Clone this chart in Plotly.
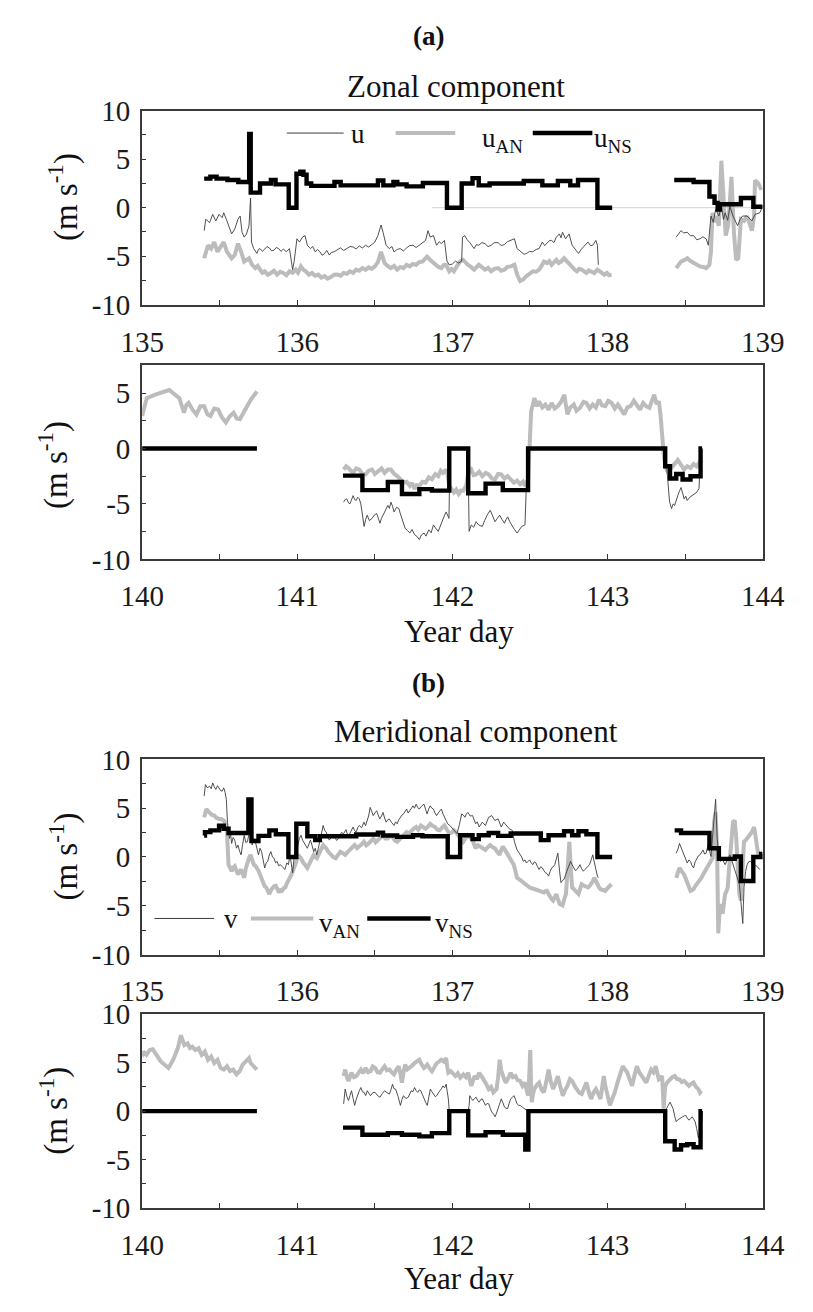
import plotly.graph_objects as go

# ---------------- data: (year day, m/s) ----------------
U_A1 = [(135.40,-2.36),(135.41,-1.19),(135.435,-1.53),(135.455,-0.69),(135.475,-1.36),(135.496,-0.69),(135.516,-1.02),(135.526,-0.52),(135.543,-1.19),(135.563,-2.20),(135.577,-2.70),(135.597,-2.20),(135.618,-1.19),(135.632,-0.86),(135.644,-2.53),(135.658,-3.03),(135.673,-2.70),(135.689,-1.86),(135.699,0.99),(135.705,-3.54),(135.719,-4.21),(135.74,-4.71),(135.75,-4.3),(135.76,-4.21),(135.775,-4.5),(135.79,-4.27),(135.805,-4.0),(135.82,-4.14),(135.835,-4.45),(135.85,-4.37),(135.865,-4.1),(135.88,-4.21),(135.895,-4.5),(135.91,-4.27),(135.93,-4.54),(135.95,-4.21),(135.97,-6.38),(135.98,-5.55),(135.998,-3.20),(136.014,-3.54),(136.034,-3.03),(136.05,-2.87),(136.065,-3.87),(136.085,-4.21),(136.10,-4.0),(136.116,-4.54),(136.13,-4.3),(136.146,-4.54),(136.16,-4.9),(136.177,-4.71),(136.19,-4.4),(136.207,-4.88),(136.22,-4.6),(136.238,-4.54),(136.258,-4.3),(136.278,-4.14),(136.30,-4.4),(136.319,-4.21),(136.34,-4.0),(136.36,-4.04),(136.38,-4.25),(136.40,-3.94),(136.42,-4.15),(136.44,-3.87),(136.46,-4.05),(136.48,-3.80),(136.50,-3.54),(136.52,-2.87),(136.54,-1.79),(136.553,-2.53),(136.573,-3.87),(136.593,-4.21),(136.61,-4.0),(136.624,-4.54),(136.645,-4.3),(136.664,-4.21),(136.685,-4.45),(136.705,-4.14),(136.725,-3.9),(136.746,-3.87),(136.766,-4.1),(136.786,-3.87),(136.805,-3.6),(136.827,-3.37),(136.843,-2.36),(136.857,-3.03),(136.878,-2.87),(136.898,-3.87),(136.915,-3.5),(136.929,-3.70),(136.949,-3.37),(136.965,-5.5),(136.98,-5.9),(137.0,-5.8),(137.02,-5.5),(137.04,-5.7),(137.06,-5.5),(137.065,-3.03),(137.08,-2.87),(137.095,-3.3),(137.11,-3.54),(137.125,-3.9),(137.14,-4.21),(137.155,-3.8),(137.17,-3.87),(137.19,-3.6),(137.21,-3.70),(137.23,-4.0),(137.25,-3.87),(137.27,-3.6),(137.295,-3.60),(137.315,-3.9),(137.335,-3.80),(137.355,-3.5),(137.376,-3.37),(137.40,-3.20),(137.417,-4.21),(137.432,-4.4),(137.447,-4.54),(137.462,-4.8),(137.478,-4.71),(137.498,-4.5),(137.518,-4.54),(137.54,-4.3),(137.559,-4.21),(137.58,-3.54),(137.595,-3.9),(137.61,-3.70),(137.625,-3.4),(137.64,-3.37),(137.655,-3.6),(137.67,-3.03),(137.69,-2.70),(137.70,-3.1),(137.71,-2.53),(137.73,-3.20),(137.752,-2.70),(137.772,-3.87),(137.793,-4.37),(137.813,-4.71),(137.83,-4.3),(137.844,-4.04),(137.86,-3.7),(137.874,-3.54),(137.89,-3.9),(137.905,-3.87),(137.925,-3.37),(137.935,-3.87),(137.941,-5.88)]
U_A2 = [(138.443,-3.03),(138.46,-2.7),(138.474,-2.36),(138.49,-2.6),(138.514,-2.53),(138.535,-2.9),(138.555,-2.87),(138.575,-3.3),(138.596,-3.20),(138.615,-3.0),(138.636,-3.20),(138.65,-3.87),(138.667,-0.86),(138.682,-1.5),(138.697,-0.18),(138.718,-0.86),(138.734,0.15),(138.748,-1.2),(138.758,-0.52),(138.775,-1.3),(138.789,0.15),(138.809,-0.86),(138.825,-1.5),(138.839,-1.86),(138.855,-1.2),(138.87,-0.86),(138.90,-0.86),(138.931,-1.36),(138.951,-0.69),(138.982,-0.52),(139.0,0.15)]
UAN_A1 = [(135.40,-5.21),(135.425,-3.87),(135.445,-4.21),(135.465,-3.54),(135.486,-4.54),(135.506,-4.04),(135.526,-3.54),(135.547,-4.54),(135.577,-5.21),(135.597,-4.88),(135.618,-3.70),(135.638,-4.54),(135.658,-5.55),(135.689,-5.21),(135.709,-5.88),(135.73,-6.22),(135.745,-6.0),(135.76,-6.38),(135.775,-6.7),(135.79,-6.55),(135.81,-6.9),(135.83,-6.72),(135.85,-6.5),(135.87,-6.89),(135.89,-6.6),(135.91,-6.72),(135.93,-6.95),(135.95,-6.55),(135.97,-6.7),(135.99,-6.38),(136.005,-6.7),(136.024,-6.05),(136.04,-6.4),(136.055,-6.55),(136.075,-6.9),(136.095,-6.72),(136.115,-7.0),(136.136,-6.89),(136.155,-7.2),(136.177,-7.05),(136.195,-7.3),(136.217,-7.15),(136.238,-6.9),(136.258,-6.89),(136.28,-7.0),(136.299,-6.72),(136.32,-6.8),(136.339,-6.55),(136.36,-6.7),(136.38,-6.38),(136.40,-6.5),(136.42,-6.22),(136.44,-6.4),(136.46,-6.15),(136.48,-6.3),(136.50,-6.05),(136.52,-5.6),(136.54,-4.54),(136.563,-5.71),(136.583,-6.0),(136.603,-6.22),(136.624,-6.0),(136.644,-6.38),(136.665,-6.1),(136.685,-6.22),(136.705,-5.9),(136.725,-6.05),(136.745,-5.8),(136.766,-5.88),(136.787,-5.6),(136.807,-5.55),(136.822,-5.3),(136.837,-5.04),(136.857,-5.38),(136.873,-5.6),(136.888,-5.88),(136.91,-6.1),(136.929,-6.22),(136.945,-5.9),(136.959,-5.88),(136.98,-6.55),(136.995,-6.3),(137.01,-6.55),(137.03,-6.0),(137.05,-5.55),(137.07,-5.38),(137.085,-5.7),(137.10,-5.88),(137.12,-6.1),(137.14,-6.38),(137.17,-5.88),(137.19,-6.1),(137.21,-6.38),(137.23,-6.2),(137.25,-6.55),(137.27,-6.3),(137.295,-6.22),(137.315,-6.5),(137.335,-6.38),(137.355,-6.1),(137.376,-6.05),(137.40,-5.88),(137.417,-6.89),(137.437,-7.56),(137.457,-7.39),(137.473,-7.1),(137.488,-6.89),(137.503,-6.7),(137.518,-6.55),(137.54,-6.6),(137.559,-6.38),(137.575,-6.0),(137.59,-5.55),(137.61,-5.71),(137.625,-5.5),(137.64,-5.88),(137.655,-5.6),(137.67,-5.38),(137.685,-5.7),(137.70,-5.55),(137.72,-5.21),(137.74,-5.55),(137.755,-5.9),(137.772,-6.22),(137.79,-6.4),(137.803,-6.55),(137.818,-6.3),(137.833,-6.38),(137.85,-6.6),(137.864,-6.72),(137.88,-6.45),(137.894,-6.55),(137.915,-6.72),(137.935,-6.38),(137.95,-6.6),(137.965,-6.72),(137.98,-6.9),(137.996,-6.72),(138.01,-6.95),(138.026,-6.89)]
UAN_A2 = [(138.443,-6.22),(138.46,-5.8),(138.474,-5.55),(138.494,-5.4),(138.514,-5.21),(138.535,-5.5),(138.555,-5.71),(138.575,-5.9),(138.596,-6.05),(138.616,-6.1),(138.636,-6.22),(138.657,-5.88),(138.667,-4.54),(138.677,-0.52),(138.687,-1.5),(138.697,-0.86),(138.718,-1.86),(138.734,4.84),(138.748,0.15),(138.762,-2.87),(138.778,-1.86),(138.799,3.17),(138.815,-2.53),(138.829,-5.38),(138.843,-5.21),(138.86,-1.19),(138.88,-1.36),(138.90,-0.86),(138.931,-2.36),(138.945,-0.86),(138.951,2.83),(138.972,2.5),(138.992,1.83)]
UNS_A1 = [(135.40,3.0),(135.44,3.2),(135.48,3.0),(135.55,2.85),(135.62,2.65),(135.69,7.6),(135.70,1.55),(135.76,2.5),(135.83,2.85),(135.86,2.4),(135.945,0.0),(135.995,3.5),(136.02,3.7),(136.04,3.4),(136.06,2.5),(136.09,2.25),(136.24,2.65),(136.28,2.3),(136.52,2.8),(136.555,2.3),(136.62,2.65),(136.645,2.4),(136.705,2.2),(136.81,2.55),(136.965,0.0),(137.06,2.5),(137.13,3.05),(137.17,2.3),(137.24,2.5),(137.46,2.75),(137.58,2.3),(137.68,2.75),(137.76,2.3),(137.81,2.85),(137.935,0.0),(138.03,0.0)]
UNS_A2 = [(138.43,2.85),(138.555,2.65),(138.657,1.15),(138.69,0.5),(138.71,-0.2),(138.725,0.35),(138.86,1.0),(138.94,0.1),(139.0,0.1)]
REF_A = [(136.87,0.0),(138.96,0.0)]

U_B1 = [(141.299,-4.84),(141.309,-4.6),(141.319,-4.54),(141.33,-4.9),(141.34,-4.98),(141.35,-4.5),(141.36,-4.25),(141.37,-4.6),(141.38,-4.69),(141.39,-4.4),(141.40,-4.54),(141.41,-5.0),(141.42,-6.01),(141.431,-7.03),(141.441,-6.4),(141.451,-6.01),(141.465,-6.5),(141.482,-6.3),(141.497,-6.0),(141.512,-5.86),(141.523,-6.3),(141.533,-6.74),(141.543,-6.3),(141.553,-6.01),(141.568,-5.6),(141.584,-5.13),(141.594,-5.4),(141.604,-4.84),(141.614,-5.2),(141.624,-5.72),(141.64,-5.3),(141.655,-5.42),(141.665,-5.9),(141.675,-6.3),(141.685,-6.8),(141.695,-7.18),(141.71,-7.4),(141.726,-7.62),(141.74,-7.3),(141.756,-7.77),(141.77,-7.9),(141.787,-8.21),(141.80,-7.8),(141.817,-7.62),(141.83,-7.9),(141.848,-7.33),(141.863,-7.6),(141.878,-6.89),(141.893,-7.2),(141.909,-7.47),(141.925,-6.9),(141.939,-6.3),(141.95,-6.0),(141.96,-5.72),(141.97,-6.1),(141.978,-6.3),(141.985,0.0),(142.10,0.0),(142.108,-7.47),(142.122,-6.89),(142.137,-7.1),(142.153,-6.6),(142.17,-6.9),(142.193,-7.03),(142.208,-6.5),(142.224,-6.01),(142.244,-5.57),(142.26,-6.2),(142.275,-6.6),(142.29,-6.3),(142.305,-6.01),(142.32,-6.4),(142.336,-6.74),(142.346,-6.4),(142.356,-6.16),(142.37,-6.6),(142.386,-7.03),(142.40,-7.3),(142.417,-7.62),(142.432,-7.3),(142.447,-7.03),(142.468,-6.89),(142.485,0.0),(143.372,0.0),(143.38,-1.61),(143.392,-3.96),(143.40,-4.8),(143.413,-5.42),(143.423,-5.0),(143.433,-5.13),(143.443,-4.6),(143.453,-4.25),(143.465,-3.8),(143.474,-3.52),(143.484,-4.0),(143.494,-4.54),(143.504,-4.3),(143.514,-4.69),(143.53,-4.4),(143.545,-4.25),(143.56,-4.1),(143.575,-3.96),(143.59,-3.6),(143.60,-0.3)]
UAN_B1 = [(140.0,2.93),(140.03,4.54),(140.08,4.83),(140.175,5.27),(140.24,4.54),(140.27,3.22),(140.285,3.9),(140.30,4.1),(140.325,3.5),(140.35,3.07),(140.375,3.8),(140.40,3.81),(140.42,3.1),(140.44,2.93),(140.465,3.6),(140.49,3.51),(140.515,2.8),(140.54,2.34),(140.565,2.9),(140.59,3.22),(140.61,2.7),(140.63,2.63),(140.665,3.51),(140.70,4.39),(140.74,5.13)]
UAN_B2 = [(141.299,-1.9),(141.315,-1.6),(141.33,-1.76),(141.345,-2.0),(141.36,-2.2),(141.38,-1.8),(141.40,-1.9),(141.42,-2.3),(141.441,-2.34),(141.46,-2.0),(141.482,-1.9),(141.50,-2.3),(141.523,-2.05),(141.543,-1.8),(141.563,-2.2),(141.584,-1.9),(141.604,-1.9),(141.625,-2.3),(141.645,-2.49),(141.665,-2.8),(141.685,-3.08),(141.705,-3.0),(141.726,-3.37),(141.74,-3.1),(141.756,-3.66),(141.77,-3.3),(141.787,-3.37),(141.807,-3.0),(141.827,-3.08),(141.848,-2.6),(141.868,-2.78),(141.89,-2.3),(141.909,-2.49),(141.925,-2.0),(141.939,-2.2),(141.96,-1.9),(141.97,-2.4),(141.98,-3.37),(141.995,-3.6),(142.01,-3.96),(142.025,-3.7),(142.041,-4.1),(142.055,-3.8),(142.071,-3.81),(142.09,-3.3),(142.102,-2.2),(142.122,-1.9),(142.137,-2.4),(142.153,-2.34),(142.173,-2.1),(142.193,-2.49),(142.214,-2.2),(142.234,-2.34),(142.255,-2.7),(142.275,-2.78),(142.295,-2.3),(142.315,-2.34),(142.336,-2.7),(142.356,-2.49),(142.376,-2.8),(142.397,-3.08),(142.417,-2.9),(142.437,-3.22),(142.455,-3.0),(142.468,-3.37),(142.488,-2.78),(142.50,1.0),(142.508,3.37),(142.518,3.9),(142.529,4.55),(142.545,3.8),(142.559,4.25),(142.58,3.7),(142.60,3.96),(142.62,3.5),(142.64,4.1),(142.66,3.6),(142.68,3.81),(142.70,4.2),(142.722,4.84),(142.732,3.9),(142.742,3.08),(142.76,3.7),(142.783,3.96),(142.80,3.4),(142.823,3.67),(142.845,4.2),(142.864,4.1),(142.885,3.6),(142.905,3.96),(142.925,3.7),(142.945,4.4),(142.965,3.9),(142.986,3.81),(143.005,4.3),(143.027,4.1),(143.047,3.6),(143.067,3.96),(143.088,3.5),(143.108,3.08),(143.128,3.7),(143.149,3.81),(143.17,4.3),(143.189,3.96),(143.21,3.5),(143.23,4.1),(143.25,3.8),(143.27,3.67),(143.285,4.2),(143.301,4.84),(143.316,4.0),(143.331,4.25),(143.342,3.0),(143.352,1.03),(143.362,-0.5),(143.372,-1.61),(143.382,-1.9),(143.392,-2.2),(143.408,-1.8),(143.423,-1.61),(143.438,-1.3),(143.453,-1.03),(143.474,-1.5),(143.494,-1.9),(143.514,-1.6),(143.535,-1.76),(143.555,-1.4),(143.575,-1.61),(143.59,-1.3),(143.606,-1.03)]
UNS_B1 = [(140.0,0.0),(140.74,0.0)]
UNS_B2 = [(141.295,-2.45),(141.42,-3.75),(141.584,-3.02),(141.675,-4.1),(141.787,-3.66),(141.868,-3.8),(141.98,0.0),(142.102,-4.04),(142.214,-3.17),(142.325,-3.75),(142.488,0.0),(143.372,-1.6),(143.403,-2.7),(143.443,-2.3),(143.484,-2.8),(143.535,-2.5),(143.60,0.0),(143.61,0.0)]

V_C1 = [(135.40,6.25),(135.408,7.42),(135.42,7.1),(135.435,7.25),(135.445,7.0),(135.455,7.59),(135.465,7.2),(135.475,6.92),(135.486,7.3),(135.496,7.09),(135.506,6.8),(135.516,6.75),(135.526,7.09),(135.535,6.6),(135.543,5.91),(135.55,3.57),(135.557,2.5),(135.563,1.89),(135.57,2.4),(135.577,1.39),(135.587,2.0),(135.597,1.73),(135.608,0.9),(135.618,1.22),(135.628,0.6),(135.638,0.22),(135.648,1.3),(135.658,2.23),(135.668,1.5),(135.679,1.56),(135.689,2.4),(135.699,3.07),(135.709,1.22),(135.72,1.9),(135.73,1.56),(135.74,0.8),(135.75,0.22),(135.76,0.9),(135.77,0.55),(135.78,-0.3),(135.79,-1.12),(135.80,-0.6),(135.81,-0.45),(135.82,0.2),(135.83,0.55),(135.84,0.0),(135.85,-0.12),(135.86,-0.6),(135.87,-0.45),(135.88,-0.9),(135.89,-0.79),(135.905,-1.0),(135.92,-1.29),(135.933,-0.6),(135.943,-0.79),(135.953,0.22),(135.962,-0.8),(135.97,-1.62),(135.977,-0.5),(135.984,0.55),(135.994,0.9),(136.004,1.22),(136.014,1.9),(136.024,2.23),(136.035,1.7),(136.045,1.39),(136.055,1.1),(136.065,0.89),(136.075,1.3),(136.085,1.73),(136.095,1.2),(136.106,0.55),(136.116,0.9),(136.126,0.22),(136.136,0.9),(136.146,1.56),(136.157,2.6),(136.167,3.23),(136.177,2.7),(136.187,2.56),(136.197,2.0),(136.207,1.73),(136.222,2.1),(136.238,2.23),(136.253,1.7),(136.268,1.89),(136.284,2.5),(136.299,2.4),(136.314,2.8),(136.329,2.06),(136.345,2.6),(136.36,3.07),(136.37,2.7),(136.38,2.56),(136.39,3.0),(136.40,3.23),(136.415,3.0),(136.43,3.57),(136.44,3.2),(136.45,3.74),(136.46,4.2),(136.47,5.08),(136.48,4.6),(136.49,4.24),(136.50,4.5),(136.512,4.74),(136.522,4.3),(136.532,3.9),(136.543,4.2),(136.553,4.57),(136.563,4.0),(136.573,3.57),(136.583,3.8),(136.593,3.9),(136.61,3.5),(136.624,3.23),(136.634,3.6),(136.644,3.4),(136.654,3.8),(136.664,4.07),(136.675,4.3),(136.685,4.41),(136.695,4.7),(136.705,4.91),(136.715,4.5),(136.725,4.74),(136.735,5.0),(136.746,5.24),(136.756,5.0),(136.766,5.41),(136.776,5.1),(136.786,4.91),(136.80,5.2),(136.817,5.41),(136.827,4.9),(136.837,4.41),(136.847,4.9),(136.857,5.24),(136.868,5.0),(136.878,4.91),(136.888,4.5),(136.898,4.24),(136.913,4.6),(136.929,4.91),(136.94,4.4),(136.949,4.07),(136.96,3.7),(136.97,3.4),(136.985,3.2),(137.0,2.9),(137.015,2.7),(137.03,2.4),(137.045,3.3),(137.06,4.41),(137.07,4.3),(137.081,4.07),(137.09,4.4),(137.10,4.57),(137.115,4.2),(137.13,4.24),(137.15,3.4),(137.16,3.6),(137.173,3.07),(137.193,3.57),(137.213,3.23),(137.234,4.07),(137.254,4.24),(137.274,3.74),(137.295,3.9),(137.315,3.07),(137.331,3.57),(137.346,3.23),(137.366,2.9),(137.386,2.73),(137.40,1.56),(137.417,0.72),(137.427,0.5),(137.437,0.22),(137.447,0.0),(137.457,-0.45),(137.468,-0.3),(137.478,-0.62),(137.488,-0.5),(137.498,-0.3),(137.508,-0.6),(137.518,-0.79),(137.529,-0.5),(137.539,-0.62),(137.549,-1.0),(137.559,-1.29),(137.569,-1.0),(137.58,-1.12),(137.59,-1.4),(137.60,-1.62),(137.61,-1.7),(137.62,-1.96),(137.63,-1.5),(137.64,-1.12),(137.65,-1.0),(137.66,-0.79),(137.67,-0.2),(137.68,0.39),(137.691,-1.46),(137.70,-2.63),(137.71,-2.4),(137.72,-2.29),(137.73,-1.8),(137.742,-1.29),(137.752,-0.9),(137.762,-0.45),(137.772,-0.8),(137.783,-1.12),(137.793,-1.4),(137.803,-1.29),(137.813,-1.0),(137.823,-0.79),(137.833,-1.2),(137.844,-1.46),(137.854,-1.3),(137.864,-1.12),(137.874,-0.9),(137.884,-0.79),(137.895,-0.3),(137.905,0.22),(137.913,-0.4),(137.921,-1.12),(137.935,-1.96),(137.941,-2.13)]
V_C2 = [(138.443,0.39),(138.454,0.8),(138.464,1.39),(138.48,0.7),(138.494,0.22),(138.504,-0.2),(138.514,-0.62),(138.525,-0.3),(138.535,-0.45),(138.545,-0.9),(138.555,-1.12),(138.565,-0.5),(138.575,-0.12),(138.585,0.1),(138.596,0.22),(138.606,0.5),(138.616,0.72),(138.626,0.3),(138.636,0.39),(138.645,1.0),(138.652,1.39),(138.66,0.5),(138.667,0.05),(138.677,2.0),(138.687,4.24),(138.697,5.91),(138.707,1.89),(138.718,0.2),(138.728,-0.45),(138.743,-0.3),(138.758,-0.79),(138.774,-0.2),(138.789,0.22),(138.80,-0.3),(138.809,-0.79),(138.819,-1.3),(138.829,-1.79),(138.84,-2.3),(138.85,-2.8),(138.857,-4.0),(138.864,-5.14),(138.872,-6.82),(138.876,-5.0),(138.88,-3.13),(138.89,-1.5),(138.90,-0.79),(138.91,-0.5),(138.921,-0.45),(138.936,-0.6),(138.951,-0.79),(138.966,-1.0),(138.982,-1.29)]
VAN_C1 = [(135.40,4.07),(135.414,4.91),(135.425,4.7),(135.435,4.57),(135.45,4.3),(135.465,4.24),(135.48,4.0),(135.496,3.9),(135.51,3.9),(135.526,3.74),(135.537,3.4),(135.547,2.56),(135.557,-0.79),(135.567,-1.1),(135.577,-1.46),(135.587,-1.1),(135.597,-0.95),(135.608,-1.4),(135.618,-1.79),(135.628,-1.5),(135.638,-1.29),(135.648,-1.7),(135.658,-2.13),(135.668,-1.2),(135.679,-0.45),(135.689,-0.1),(135.699,0.22),(135.71,-0.3),(135.72,-0.79),(135.73,-0.9),(135.74,-1.12),(135.75,-1.4),(135.76,-1.79),(135.77,-2.3),(135.78,-2.8),(135.79,-3.0),(135.80,-3.13),(135.81,-3.5),(135.82,-3.8),(135.83,-3.4),(135.84,-3.13),(135.85,-3.0),(135.862,-2.96),(135.872,-3.3),(135.882,-3.63),(135.892,-3.4),(135.902,-3.47),(135.913,-3.2),(135.923,-3.13),(135.933,-2.7),(135.943,-2.46),(135.953,-2.1),(135.963,-1.79),(135.973,-1.4),(135.984,-1.12),(135.994,-0.5),(136.004,0.22),(136.014,0.1),(136.024,-0.12),(136.035,-0.5),(136.045,-0.79),(136.055,-0.9),(136.065,-1.12),(136.075,-0.8),(136.085,-0.45),(136.095,-0.1),(136.106,0.22),(136.116,0.0),(136.126,-0.12),(136.136,0.2),(136.146,0.55),(136.157,0.9),(136.167,1.22),(136.177,1.0),(136.187,0.89),(136.202,0.5),(136.217,0.22),(136.232,0.0),(136.248,-0.12),(136.263,0.2),(136.278,0.55),(136.293,0.4),(136.309,0.22),(136.324,0.5),(136.339,0.72),(136.355,1.0),(136.37,1.22),(136.385,0.9),(136.40,1.06),(136.415,1.3),(136.43,1.56),(136.445,1.2),(136.46,1.39),(136.475,1.6),(136.49,1.89),(136.505,1.5),(136.52,1.73),(136.537,2.0),(136.553,2.23),(136.568,1.9),(136.583,1.89),(136.598,2.2),(136.614,2.06),(136.629,1.7),(136.644,1.56),(136.66,1.8),(136.675,2.06),(136.69,2.3),(136.705,2.56),(136.72,2.4),(136.735,2.73),(136.75,2.9),(136.766,3.07),(136.78,2.8),(136.797,3.23),(136.812,3.0),(136.827,2.9),(136.842,3.1),(136.857,3.4),(136.872,3.2),(136.888,3.07),(136.903,2.8),(136.918,2.73),(136.933,3.0),(136.949,3.23),(136.965,2.8),(136.98,2.4),(136.995,2.5),(137.01,2.73),(137.025,2.5),(137.04,2.23),(137.055,1.9),(137.07,1.56),(137.085,1.9),(137.10,2.23),(137.115,2.0),(137.13,1.73),(137.14,1.3),(137.15,0.89),(137.165,1.2),(137.183,1.06),(137.198,0.9),(137.213,0.72),(137.228,1.0),(137.244,1.22),(137.26,1.0),(137.274,0.89),(137.29,0.5),(137.305,0.22),(137.315,0.7),(137.325,1.06),(137.336,0.8),(137.346,0.55),(137.356,0.3),(137.366,0.05),(137.38,-0.4),(137.396,-0.79),(137.407,-1.5),(137.417,-2.13),(137.432,-2.3),(137.447,-2.46),(137.462,-2.6),(137.478,-2.8),(137.488,-3.0),(137.498,-3.13),(137.513,-3.2),(137.528,-3.3),(137.544,-3.4),(137.559,-3.47),(137.575,-3.5),(137.59,-3.63),(137.60,-3.5),(137.61,-3.47),(137.62,-3.8),(137.63,-4.14),(137.64,-4.3),(137.65,-4.47),(137.66,-4.1),(137.67,-3.8),(137.68,-4.3),(137.691,-4.81),(137.70,-4.9),(137.71,-4.97),(137.72,-4.4),(137.732,-3.8),(137.74,-2.0),(137.746,-0.79),(137.754,1.56),(137.762,-0.79),(137.772,-3.13),(137.783,-3.3),(137.793,-3.47),(137.803,-3.6),(137.813,-3.8),(137.823,-3.3),(137.833,-2.8),(137.844,-2.9),(137.854,-2.96),(137.864,-3.0),(137.874,-3.13),(137.884,-3.0),(137.894,-2.8),(137.905,-2.5),(137.915,-2.13),(137.925,-2.5),(137.935,-2.8),(137.945,-3.1),(137.955,-3.3),(137.97,-3.4),(137.986,-3.47),(138.0,-3.2),(138.016,-2.96),(138.026,-2.8)]
VAN_C2 = [(138.443,-2.13),(138.454,-1.6),(138.464,-1.12),(138.48,-1.5),(138.494,-1.79),(138.504,-2.2),(138.514,-2.63),(138.525,-3.0),(138.535,-3.47),(138.545,-3.4),(138.555,-3.3),(138.565,-3.0),(138.575,-2.8),(138.59,-2.4),(138.606,-2.13),(138.62,-1.7),(138.636,-1.29),(138.646,-1.0),(138.657,-0.79),(138.667,-0.4),(138.677,-0.12),(138.687,3.57),(138.697,4.57),(138.707,0.22),(138.714,-7.82),(138.721,-6.0),(138.728,-4.81),(138.735,-5.3),(138.742,-5.81),(138.75,-4.8),(138.758,-3.8),(138.767,-3.5),(138.775,-3.13),(138.782,-1.5),(138.789,-0.12),(138.799,1.56),(138.809,3.57),(138.82,3.74),(138.829,2.23),(138.839,-0.79),(138.85,-3.8),(138.86,-4.47),(138.87,-1.46),(138.88,1.56),(138.89,1.7),(138.90,1.89),(138.915,2.2),(138.931,2.56),(138.945,3.07),(138.957,1.56),(138.972,0.22)]
VNS_C1 = [(135.40,2.2),(135.405,2.55),(135.44,2.73),(135.496,3.2),(135.526,2.9),(135.557,2.45),(135.685,5.9),(135.705,1.63),(135.75,2.16),(135.82,2.73),(135.862,2.33),(135.943,0.0),(135.994,3.4),(136.065,2.13),(136.116,1.73),(136.146,2.13),(136.38,2.3),(136.52,2.5),(136.553,2.2),(136.644,2.06),(136.746,2.23),(136.807,2.13),(136.97,0.0),(137.05,2.23),(137.13,1.83),(137.17,2.23),(137.234,2.46),(137.295,2.16),(137.376,2.4),(137.57,1.73),(137.62,2.23),(137.72,2.63),(137.772,2.23),(137.813,2.63),(137.864,2.33),(137.935,0.0),(138.03,0.0)]
VNS_C2 = [(138.433,2.73),(138.474,2.46),(138.657,0.9),(138.718,-0.2),(138.82,0.05),(138.86,-2.46),(138.94,0.0),(138.99,0.3),(139.0,0.3)]

V_D1 = [(141.299,0.75),(141.309,2.27),(141.32,1.5),(141.33,1.09),(141.34,1.6),(141.35,2.1),(141.36,1.3),(141.37,0.59),(141.38,1.2),(141.39,1.76),(141.40,2.1),(141.41,2.43),(141.42,2.0),(141.431,1.93),(141.441,1.6),(141.451,2.1),(141.462,1.8),(141.472,1.59),(141.487,1.9),(141.502,1.93),(141.518,1.6),(141.533,1.43),(141.548,1.8),(141.563,2.1),(141.578,1.9),(141.594,1.76),(141.604,2.2),(141.614,2.77),(141.624,2.3),(141.634,2.27),(141.65,1.5),(141.665,0.59),(141.675,1.2),(141.685,1.59),(141.70,1.3),(141.716,1.43),(141.726,1.8),(141.736,2.1),(141.746,2.0),(141.756,2.43),(141.767,2.1),(141.777,1.93),(141.787,2.2),(141.797,2.1),(141.807,1.7),(141.817,1.26),(141.828,0.9),(141.838,0.59),(141.848,1.5),(141.858,2.27),(141.868,2.0),(141.878,1.76),(141.889,1.5),(141.899,1.59),(141.909,1.9),(141.919,2.1),(141.929,2.3),(141.939,2.6),(141.95,2.4),(141.96,2.77),(141.967,2.0),(141.974,1.26),(141.98,0.0),(142.102,0.0),(142.108,0.59),(142.112,1.59),(142.122,1.3),(142.132,1.09),(142.143,1.3),(142.153,1.43),(142.163,1.1),(142.173,0.92),(142.183,1.2),(142.193,1.26),(142.204,0.9),(142.214,0.59),(142.224,0.8),(142.234,0.75),(142.244,0.3),(142.254,-0.09),(142.265,-0.3),(142.275,-0.59),(142.285,-0.2),(142.295,0.25),(142.305,0.8),(142.315,1.26),(142.325,0.9),(142.336,0.42),(142.346,0.3),(142.356,0.25),(142.366,0.8),(142.376,1.26),(142.386,1.4),(142.397,1.59),(142.407,1.2),(142.417,0.75),(142.427,0.6),(142.437,0.59),(142.452,0.4),(142.468,0.25),(142.488,0.0),(143.372,0.0),(143.382,0.25),(143.392,0.6),(143.403,0.92),(143.413,0.5),(143.423,0.25),(143.433,-0.5),(143.443,-1.09),(143.453,-0.9),(143.464,-0.76),(143.474,-0.7),(143.484,-0.59),(143.494,-0.5),(143.504,-0.42),(143.514,-0.7),(143.525,-0.93),(143.535,-0.8),(143.545,-0.59),(143.555,-0.8),(143.565,-1.09),(143.575,-1.8),(143.586,-2.77),(143.596,-2.0),(143.606,-1.43),(143.612,0.0)]
VAN_D1 = [(140.0,5.63),(140.008,6.13),(140.028,5.8),(140.049,6.3),(140.069,6.37),(140.09,5.8),(140.12,5.12),(140.17,4.45),(140.20,5.29),(140.23,6.47),(140.25,7.81),(140.272,6.8),(140.293,6.97),(140.308,6.5),(140.323,6.63),(140.343,6.3),(140.364,6.47),(140.384,5.8),(140.404,6.13),(140.425,5.29),(140.445,5.63),(140.465,4.95),(140.486,5.29),(140.506,4.45),(140.526,4.28),(140.547,4.62),(140.567,4.11),(140.587,4.28),(140.608,3.78),(140.628,4.11),(140.648,4.79),(140.669,5.12),(140.689,5.46),(140.699,4.95),(140.72,4.62),(140.74,4.28)]
VAN_D2 = [(141.299,3.61),(141.309,4.28),(141.32,3.5),(141.33,3.11),(141.35,3.95),(141.365,3.5),(141.38,3.61),(141.395,4.0),(141.41,4.28),(141.425,3.9),(141.441,4.45),(141.457,4.0),(141.472,4.11),(141.487,4.6),(141.502,4.45),(141.518,4.0),(141.533,3.95),(141.548,4.3),(141.563,4.62),(141.578,4.2),(141.594,4.28),(141.61,4.0),(141.624,3.78),(141.64,4.3),(141.655,4.62),(141.665,3.8),(141.675,2.94),(141.685,4.0),(141.695,4.79),(141.71,4.3),(141.726,4.45),(141.741,4.7),(141.756,4.95),(141.772,5.1),(141.787,5.29),(141.802,4.8),(141.817,4.45),(141.828,4.6),(141.838,4.79),(141.853,4.4),(141.868,4.11),(141.883,4.5),(141.899,4.95),(141.914,5.1),(141.929,5.29),(141.945,5.1),(141.96,5.46),(141.967,4.6),(141.974,3.95),(141.99,4.11),(142.005,3.8),(142.02,3.61),(142.035,3.9),(142.051,3.44),(142.061,3.6),(142.071,3.78),(142.087,3.5),(142.102,3.95),(142.112,3.2),(142.122,2.6),(142.132,3.1),(142.143,3.61),(142.158,3.3),(142.173,3.95),(142.188,3.6),(142.203,3.27),(142.218,2.8),(142.234,2.27),(142.25,2.5),(142.264,1.93),(142.275,2.1),(142.285,2.27),(142.295,3.5),(142.305,5.29),(142.315,4.2),(142.325,3.61),(142.336,3.2),(142.346,2.94),(142.36,3.4),(142.376,3.95),(142.39,3.5),(142.407,3.61),(142.42,3.2),(142.437,3.11),(142.452,2.6),(142.468,2.94),(142.478,2.2),(142.488,1.59),(142.495,3.5),(142.502,6.3),(142.507,3.0),(142.512,0.92),(142.52,1.8),(142.529,2.27),(142.544,2.7),(142.559,2.94),(142.575,2.2),(142.59,1.93),(142.605,3.0),(142.62,4.28),(142.635,3.0),(142.65,2.27),(142.665,2.9),(142.68,3.61),(142.696,2.5),(142.712,1.59),(142.727,2.2),(142.742,2.6),(142.758,3.3),(142.773,3.11),(142.788,2.6),(142.803,2.27),(142.818,1.9),(142.834,1.76),(142.849,2.5),(142.864,2.94),(142.879,2.0),(142.894,1.26),(142.91,1.9),(142.925,2.27),(142.94,1.8),(142.955,1.26),(142.966,2.5),(142.976,3.61),(142.986,2.6),(142.996,1.76),(143.006,1.2),(143.016,0.59),(143.031,1.3),(143.047,1.93),(143.062,2.8),(143.077,3.61),(143.088,4.2),(143.098,4.62),(143.113,4.3),(143.128,3.95),(143.144,3.2),(143.159,2.6),(143.174,3.7),(143.189,4.62),(143.205,4.0),(143.22,3.61),(143.235,3.3),(143.25,2.94),(143.265,3.6),(143.281,4.28),(143.296,4.0),(143.311,4.62),(143.321,3.9),(143.331,3.27),(143.342,3.4),(143.352,3.61),(143.357,2.0),(143.362,0.25),(143.367,1.5),(143.372,2.6),(143.387,3.0),(143.403,3.27),(143.418,3.5),(143.433,3.61),(143.448,3.3),(143.464,3.27),(143.479,3.0),(143.494,3.11),(143.51,2.8),(143.525,2.6),(143.54,2.8),(143.555,2.94),(143.57,2.5),(143.586,2.27),(143.596,1.9),(143.606,2.1)]
VNS_D1 = [(140.0,0.0),(140.74,0.0)]
VNS_D2 = [(141.295,-1.7),(141.42,-2.44),(141.584,-2.27),(141.675,-2.44),(141.787,-2.6),(141.868,-2.27),(141.98,0.0),(142.102,-2.5),(142.214,-2.17),(142.325,-2.44),(142.47,-3.95),(142.49,0.0),(143.372,-3.11),(143.433,-3.95),(143.474,-3.51),(143.514,-3.4),(143.555,-3.72),(143.60,0.0),(143.61,0.0)]

X_RANGES = [[135, 139], [140, 144], [135, 139], [140, 144]]
Y_RANGES = [[-10, 10], [-10, 7.5], [-10, 10], [-10, 10]]
Y_TICKS = [-10, -5, 0, 5, 10]
Y_TICK_TEXT = ["-10", "-5", "0", "5", "10"]
LEGEND_A = ["u", "u<sub>AN</sub>", "u<sub>NS</sub>"]
LEGEND_B = ["v", "v<sub>AN</sub>", "v<sub>NS</sub>"]

# ---------------- figure ----------------
W, H = 813, 1312
SERIF = "Liberation Serif"
THIN = dict(color="#3c3c3c", width=0.9)
AN = dict(color="#bcbcbc", width=4.0)
NS = dict(color="#000000", width=4.4)
REF = dict(color="#dadada", width=1.2)


def series(*segments):
    xs, ys = [], []
    for i, seg in enumerate(segments):
        if i:
            xs.append(None)
            ys.append(None)
        for d, v in seg:
            xs.append(d)
            ys.append(v)
    return xs, ys


def px(x):
    return x / W


def py(y):
    return 1 - y / H


fig = go.Figure()
panels = [
    ("x", "y", [(REF_A,), (UAN_A1, UAN_A2), (U_A1, U_A2), (UNS_A1, UNS_A2)]),
    ("x2", "y2", [None, (UAN_B1, UAN_B2), (U_B1,), (UNS_B1, UNS_B2)]),
    ("x3", "y3", [None, (VAN_C1, VAN_C2), (V_C1, V_C2), (VNS_C1, VNS_C2)]),
    ("x4", "y4", [None, (VAN_D1, VAN_D2), (V_D1,), (VNS_D1, VNS_D2)]),
]
styles = [REF, AN, THIN, NS]
for xa, ya, groups in panels:
    for segs, st in zip(groups, styles):
        if segs is None:
            continue
        xs, ys = series(*segs)
        fig.add_trace(go.Scatter(
            x=xs, y=ys, mode="lines", xaxis=xa, yaxis=ya, showlegend=False,
            line=dict(color=st["color"], width=st["width"],
                      shape="hv" if st is NS else "linear"),
            connectgaps=False, hoverinfo="skip"))

boxes = [(97, 296), (358, 557), (762, 962), (1023, 1222)]
axis_font = dict(family=SERIF, size=29, color="#1a1a1a")
layout = {}
for i, ((top, bot), xr, yr) in enumerate(zip(boxes, X_RANGES, Y_RANGES)):
    sfx = "" if i == 0 else str(i + 1)
    layout["xaxis" + sfx] = dict(
        domain=[px(127), px(783)], range=xr, anchor="y" + sfx,
        tick0=xr[0], dtick=1, ticks="inside", ticklen=5, tickwidth=1.2,
        tickcolor="#333", minor=dict(dtick=0.5, ticks="inside", ticklen=5,
                                     tickwidth=1.2, tickcolor="#333"),
        showline=True, mirror=True, linecolor="#3a3a3a", linewidth=2,
        showgrid=False, zeroline=False, tickfont=axis_font,
        ticklabelstandoff=10)
    layout["yaxis" + sfx] = dict(
        domain=[py(bot), py(top)], range=yr, anchor="x" + sfx,
        tickmode="array", tickvals=Y_TICKS, ticktext=Y_TICK_TEXT,
        ticks="inside", ticklen=4, tickwidth=1.2,
        tickcolor="#333", minor=dict(dtick=2.5, tick0=-10, ticks="inside", ticklen=4,
                                     tickwidth=1.2, tickcolor="#333"),
        showline=True, mirror=True, linecolor="#3a3a3a", linewidth=2,
        showgrid=False, zeroline=False, tickfont=axis_font,
        ticklabelstandoff=4)

annotations = []
def text(x, y, s, size, xanchor="center", yanchor="middle", angle=0, bold=False):
    annotations.append(dict(
        x=px(x), y=py(y), xref="paper", yref="paper",
        text=("<b>%s</b>" % s) if bold else s,
        showarrow=False, xanchor=xanchor, yanchor=yanchor, textangle=angle,
        font=dict(family=SERIF, size=size, color="#111")))

text(430, 21, "(a)", 27, bold=True)
text(459, 72, "Zonal component", 31)
text(430, 684, "(b)", 27, bold=True)
text(480, 733, "Meridional component", 31)
text(462, 631, "Year day", 31)
text(462, 1294, "Year day", 31)
for yc, xc in [(186, 44), (460, 34), (862, 45), (1122, 34)]:
    text(xc, yc, "(m s<sup>-1</sup>)", 33, angle=-90)

shapes = []
def key(x0, x1, y, st):
    shapes.append(dict(type="line", xref="paper", yref="paper",
                       x0=px(x0), x1=px(x1), y0=py(y), y1=py(y),
                       line=dict(color=st["color"], width=max(st["width"], 1.0))))

key(280, 340, 120, THIN); key(395, 458, 120, AN); key(540, 603, 120, NS)
text(346, 121, LEGEND_A[0], 27, xanchor="left")
text(484, 127, LEGEND_A[1], 27, xanchor="left")
text(603, 127, LEGEND_A[2], 27, xanchor="left")
key(140, 203, 925, THIN); key(242, 308, 925, AN); key(365, 432, 925, NS)
text(211, 926, LEGEND_B[0], 27, xanchor="left")
text(312, 932, LEGEND_B[1], 27, xanchor="left")
text(435, 932, LEGEND_B[2], 27, xanchor="left")

fig.update_layout(
    width=W, height=H, margin=dict(l=0, r=0, t=0, b=0),
    paper_bgcolor="white", plot_bgcolor="white",
    font=dict(family=SERIF),
    annotations=annotations, shapes=shapes, showlegend=False,
    **layout)

fig.write_html("out.html")
